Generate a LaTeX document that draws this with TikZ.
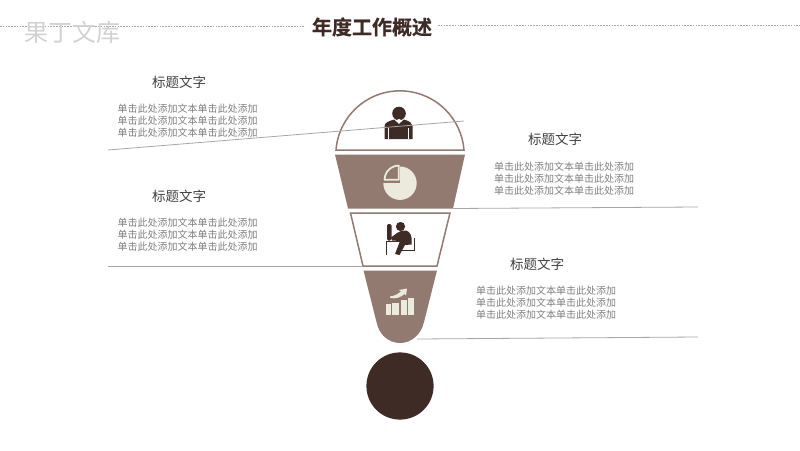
\documentclass[tikz,border=0pt]{standalone}
\usepackage{fontspec}
\setmainfont{Noto Sans CJK SC}
\newfontfamily\boldcjk[BoldFont={Noto Sans CJK SC Bold},BoldFeatures={FakeBold=0.6}]{Noto Sans CJK SC}
\definecolor{brownm}{HTML}{927A71}
\definecolor{darkb}{HTML}{3E2B26}
\definecolor{creamc}{HTML}{ECE9DD}
\definecolor{bodyt}{HTML}{7F7F7F}
\definecolor{headt}{HTML}{404040}
\definecolor{linec}{HTML}{A6A6A6}
\newcommand{\bodytext}{单击此处添加文本单击此处添加}
\tikzset{
  x=1pt,y=-1pt,
  bodynode/.style={font=\fontsize{10}{12}\selectfont,text=bodyt,inner sep=0pt,align=center},
  headnode/.style={font=\fontsize{13.5}{16}\selectfont,text=headt,inner sep=0pt},
  leader/.style={draw=linec,line width=0.8pt},
  dashrule/.style={draw=linec,line width=0.7pt,dash pattern=on 1.6pt off 1.2pt},
  segfill/.style={fill=brownm,draw=none},
  segline/.style={draw=brownm,line width=1.5pt,fill=white},
  darkfill/.style={fill=darkb,draw=none},
  creamfill/.style={fill=creamc,draw=none}
}
\begin{document}
\begin{tikzpicture}
\useasboundingbox (0,0) rectangle (800,450);
% header
\coordinate (hl0) at (0,26.5); \coordinate (hl1) at (305,26.5);
\coordinate (hr0) at (438,25.5); \coordinate (hr1) at (800,25.5);
\draw[dashrule] (hl0) -- (hl1);
\draw[dashrule] (hr0) -- (hr1);
\node[inner sep=0pt,font=\fontsize{24}{28}\selectfont,text=black!18] (wm) at (72,32) {果丁文库};
\node[inner sep=0pt,font=\boldcjk\bfseries\fontsize{20}{24}\selectfont,text=darkb] (ttl) at (372,27) {年度工作概述};
% segments
\draw[segline] (336,150) arc[start angle=184.5,end angle=355.5,radius=64.2] -- cycle;
\fill[segfill] (335,154.5) -- (465,154.5) -- (453,208.5) -- (348,208.5) -- cycle;
\draw[segline] (350.5,213) -- (450,213) -- (437,266) -- (363,266) -- cycle;
\fill[segfill] (363.5,270.5) -- (437,270.5) -- (424,322) .. controls (421,335) and (411,343) .. (400,343) .. controls (389,343) and (379,335) .. (376.5,322) -- cycle;
\fill[darkb] (400,386) circle[radius=33.6];
% person icon
\fill[darkfill] (399,113.5) circle[radius=6.8];
\fill[darkfill] (384.5,139) -- (384.5,126) .. controls (385,122.5) and (388,121.5) .. (394,119.5) -- (399,124) -- (404,119.5) .. controls (410,121.5) and (412,122.5) .. (412.5,126) -- (412.5,139) -- cycle;
\fill[white] (396.8,120) -- (399,122.5) -- (401.2,120) -- (399,119) -- cycle;
\draw[white,line width=0.5pt] (388.5,128) -- (388.5,139) (408.5,128) -- (408.5,139);
% leaders
\coordinate (a0) at (108,150); \coordinate (a1) at (464,121);
\coordinate (b0) at (453,208.5); \coordinate (b1) at (698,207);
\coordinate (c0) at (108,266); \coordinate (c1) at (363,266);
\coordinate (d0) at (417,339); \coordinate (d1) at (698,337);
\draw[leader] (a0) -- (a1);
\draw[leader] (b0) -- (b1);
\draw[leader] (c0) -- (c1);
\draw[leader] (d0) -- (d1);
% pie icon
\fill[creamfill] (400,166.5) arc[start angle=270,end angle=540,radius=16.7] -- (400,183) -- cycle;
\fill[brownm] (383,183) -- (400,183) -- (400,166) -- (383,166) -- cycle;
\draw[creamc,line width=1.8pt,line join=round] (398.8,179.8) -- (398.8,165.6) arc[start angle=270,end angle=180,radius=14.2] -- cycle;
% worker icon
\fill[darkb,rounded corners=1.4pt] (387,224) rectangle (391.5,240.5);
\fill[darkb] (400.5,226.5) circle[radius=4.6];
\fill[darkb] (391,237.5) -- (397,233) -- (402,230.5) .. controls (408,229.5) and (411,233) .. (411.5,238) -- (411.5,244.5) -- (405,245) -- (399.5,255) -- (395,254) -- (400,241) -- (392,240.5) -- cycle;
\draw[darkb,line width=1.2pt] (386.5,255) -- (386.5,241.5) -- (400,241.5);
\draw[darkb,line width=1.1pt] (414.5,238) -- (414.5,250.5) -- (402,250.5);
% growth icon
\fill[creamfill] (386,304) rectangle (391,314.5);
\fill[creamfill] (392.3,302.7) rectangle (399,314.5);
\fill[creamfill] (400.7,300) rectangle (406.7,314.5);
\fill[creamfill] (408,298.3) rectangle (414,314.5);
\fill[creamfill] (390,296.5) .. controls (395,296) and (398,293.5) .. (401,291.5) -- (399,290) -- (407,288.5) -- (406,295.5) -- (404.5,294) .. controls (401,297) and (396,299.5) .. (390,297.8) -- cycle;
% texts
\node[headnode] (h1) at (179,82) {标题文字};
\node[headnode] (h2) at (179,196) {标题文字};
\node[headnode] (h3) at (555,139.5) {标题文字};
\node[headnode] (h4) at (537,264) {标题文字};
\node[bodynode] (t1) at (187.5,120.3) {\bodytext\\\bodytext\\\bodytext};
\node[bodynode] (t2) at (187.5,234.3) {\bodytext\\\bodytext\\\bodytext};
\node[bodynode] (t3) at (564,178.3) {\bodytext\\\bodytext\\\bodytext};
\node[bodynode] (t4) at (546,302.3) {\bodytext\\\bodytext\\\bodytext};
\end{tikzpicture}
\end{document}
